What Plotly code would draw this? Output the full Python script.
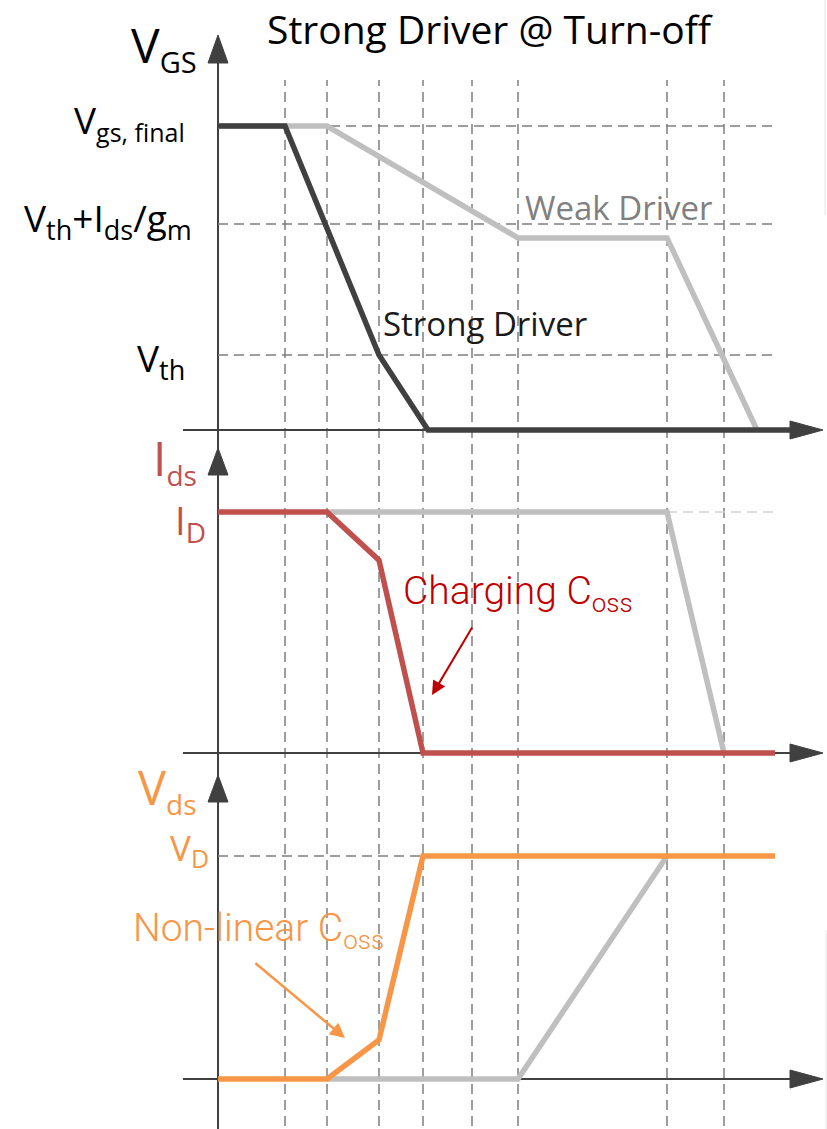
import plotly.graph_objects as go

W, H = 827, 1129

# ---------------- data (schematic, arbitrary units) ----------------
t_marks = [1.34, 2.18, 3.22, 4.10, 5.08, 6.00, 8.98, 10.12]

# V_GS panel (normalised to V_gs,final = 1)
t_vgs_strong = [0, 1.34, 3.22, 4.20, 11.9]
vgs_strong = [1.0, 1.0, 0.247, 0.0, 0.0]
t_vgs_weak = [0, 2.18, 6.00, 8.98, 10.78]
vgs_weak = [1.0, 1.0, 0.632, 0.632, 0.0]
vgs_levels = [1.0, 0.678, 0.247]


def sub(s, size):
    return f'<sub><span style="font-size:{size}px">{s}</span></sub>'


vgs_level_labels = ["V" + sub("gs, final", 25),
                    "V" + sub("th", 27) + "+I" + sub("ds", 27) + "/g" + sub("m", 27),
                    "V" + sub("th", 27)]

# I_DS panel (normalised to I_D = 1)
t_ids_strong = [0, 2.18, 3.22, 4.10, 11.14]
ids_strong = [1.0, 1.0, 0.80, 0.0, 0.0]
t_ids_weak = [2.18, 8.98, 10.12]
ids_weak = [1.0, 1.0, 0.0]

# V_DS panel (normalised to V_D = 1)
t_vds_strong = [0, 2.18, 3.22, 4.10, 11.14]
vds_strong = [0.0, 0.0, 0.175, 1.0, 1.0]
t_vds_weak = [2.18, 6.00, 8.98]
vds_weak = [0.0, 0.0, 1.0]

# ---------------- styling ----------------
DARK = "#404040"
GRAY = "#bfbfbf"
RED = "#c0504d"
ORANGE = "#f79646"
GRID = "#7f7f7f"
FONT = "Open Sans"
THIN = "Roboto"

X_RANGE = [-4.36, 12.18]
Y1_RANGE = [-2.2993, 1.4145]
Y2_RANGE = [-1.5602, 3.1245]
Y3_RANGE = [-0.2242, 4.8386]


def px(x):
    return x / W


def py(y):
    return 1 - y / H


fig = go.Figure()

def line(t, v, color, yaxis):
    fig.add_trace(go.Scatter(x=t, y=v, mode="lines", yaxis=yaxis,
                             line=dict(color=color, width=5.5),
                             hoverinfo="skip", showlegend=False))

line(t_vgs_weak, vgs_weak, GRAY, "y")
line(t_vgs_strong, vgs_strong, DARK, "y")
line(t_ids_weak, ids_weak, GRAY, "y2")
line(t_ids_strong, ids_strong, RED, "y2")
line(t_vds_weak, vds_weak, GRAY, "y3")
line(t_vds_strong, vds_strong, ORANGE, "y3")

shapes = []
DASH = "10px,6px"
# vertical dashed time markers
for t in t_marks:
    shapes.append(dict(type="line", xref="x", yref="paper", x0=t, x1=t,
                       y0=py(1126), y1=py(80), layer="below",
                       line=dict(color=GRID, width=1.5, dash=DASH)))
# horizontal dashed levels
for lv in vgs_levels:
    shapes.append(dict(type="line", xref="x", yref="y", x0=0, x1=11.1,
                       y0=lv, y1=lv, layer="below",
                       line=dict(color=GRID, width=1.5, dash=DASH)))
shapes.append(dict(type="line", xref="x", yref="y2", x0=t_ids_weak[1], x1=11.1,
                   y0=1, y1=1, layer="below",
                   line=dict(color="#d0d0d0", width=1.5, dash=DASH)))
shapes.append(dict(type="line", xref="x", yref="y3", x0=0, x1=t_vds_strong[3],
                   y0=1, y1=1, layer="below",
                   line=dict(color=GRID, width=1.5, dash=DASH)))

# vertical axis line
shapes.append(dict(type="line", xref="paper", yref="paper", x0=px(218), x1=px(218),
                   y0=0, y1=py(55), layer="below", line=dict(color=DARK, width=2)))
# horizontal axis lines
for yb in (430, 753, 1079):
    shapes.append(dict(type="line", xref="paper", yref="paper", x0=px(183), x1=px(800),
                       y0=py(yb), y1=py(yb), layer="below",
                       line=dict(color=DARK, width=2)))

# arrowheads
def tri(p1, p2, p3):
    return dict(type="path", xref="paper", yref="paper", layer="above",
                path=f"M {px(p1[0])},{py(p1[1])} L {px(p2[0])},{py(p2[1])} "
                     f"L {px(p3[0])},{py(p3[1])} Z",
                fillcolor=DARK, line=dict(color=DARK, width=1))

for tip, base in ((35, 63), (448, 475), (775, 802)):
    shapes.append(tri((218, tip), (208, base), (228, base)))
for yb in (430, 753, 1079):
    shapes.append(tri((823, yb), (790, yb - 9), (790, yb + 9)))

# faint page-edge lines
shapes.append(dict(type="line", xref="paper", yref="paper", x0=px(825), x1=px(825),
                   y0=py(215), y1=1, line=dict(color="#e6e6e6", width=1)))
shapes.append(dict(type="line", xref="paper", yref="paper", x0=px(826), x1=px(826),
                   y0=0, y1=py(930), line=dict(color="#e6e6e6", width=1)))

ann = []

def text(s, x, y, size, color="#000000", xanchor="right", weight=None, family=FONT):
    f = dict(family=family, size=size, color=color)
    if weight:
        f["weight"] = weight
    ann.append(dict(text=s, x=px(x), y=py(y), xref="paper", yref="paper",
                    xanchor=xanchor, yanchor="middle", showarrow=False, font=f))

text("Strong Driver @ Turn-off", 490, 29, 39, xanchor="center")
text("V" + sub("GS", 29), 199, 46, 48)
text(vgs_level_labels[0], 187, 121, 37)
text(vgs_level_labels[1], 194, 220, 37)
text(vgs_level_labels[2], 187, 360, 37)
text("I" + sub("ds", 28), 199, 459, 48, RED)
text("I" + sub("D", 28), 208, 522, 38, RED)
text("V" + sub("ds", 28), 199, 789, 47, ORANGE)
text("V" + sub("D", 25), 211, 849, 35, ORANGE)
text("Weak Driver", 523, 208, 33, "#808080", xanchor="left")
text("Strong Driver", 381, 323, 33, "#1a1a1a", xanchor="left")
text("Charging C" + sub("oss", 26), 401, 593, 39, "#c00000", xanchor="left",
     weight=300, family=THIN)
text("Non-linear C" + sub("oss", 26), 131, 930, 39, ORANGE, xanchor="left",
     weight=300, family=THIN)

# pointer arrows
ann.append(dict(text="", x=px(432), y=py(695), xref="paper", yref="paper",
                ax=41, ay=-69, showarrow=True, arrowhead=2, arrowsize=1.4,
                arrowwidth=2, arrowcolor="#c00000"))
ann.append(dict(text="", x=px(345), y=py(1038), xref="paper", yref="paper",
                ax=-91, ay=-76, showarrow=True, arrowhead=2, arrowsize=1.2,
                arrowwidth=2.5, arrowcolor=ORANGE))

fig.update_layout(
    width=W, height=H, autosize=False,
    margin=dict(l=0, r=0, t=0, b=0, pad=0),
    paper_bgcolor="white", plot_bgcolor="white",
    showlegend=False,
    xaxis=dict(range=X_RANGE, visible=False, fixedrange=True),
    yaxis=dict(range=Y1_RANGE, visible=False, fixedrange=True),
    yaxis2=dict(range=Y2_RANGE, visible=False, overlaying="y", fixedrange=True),
    yaxis3=dict(range=Y3_RANGE, visible=False, overlaying="y", fixedrange=True),
    shapes=shapes,
    annotations=ann,
)

fig.write_html("out.html", config={"displayModeBar": False},
               post_script="document.body.style.margin='0';document.body.style.overflow='hidden';")
